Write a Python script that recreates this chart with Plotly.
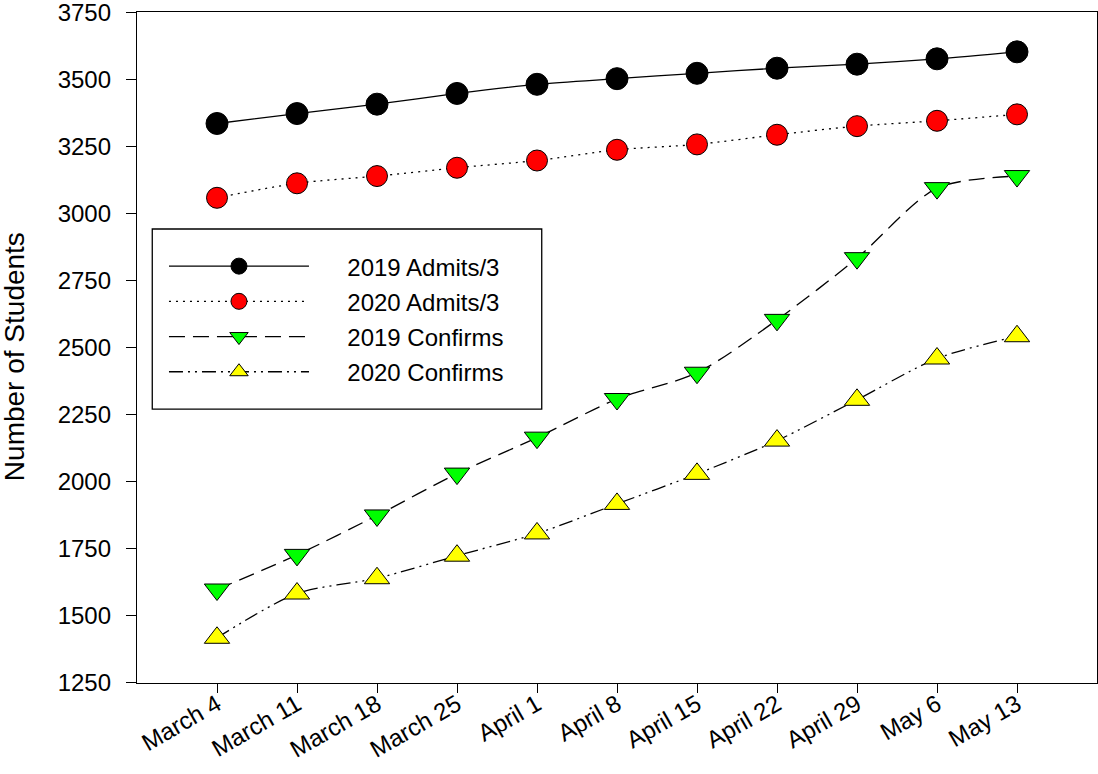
import plotly.graph_objects as go

weeks = ["March 4", "March 11", "March 18", "March 25", "April 1", "April 8",
         "April 15", "April 22", "April 29", "May 6", "May 13"]
admits_2019 = [3335, 3372, 3407, 3447, 3481, 3502, 3522, 3541, 3556, 3576, 3602]
admits_2020 = [3058, 3112, 3139, 3170, 3197, 3237, 3257, 3293, 3325, 3345, 3369]
confirms_2019 = [1598, 1727, 1874, 2030, 2164, 2308, 2406, 2603, 2833, 3094, 3139]
confirms_2020 = [1418, 1583, 1640, 1724, 1807, 1917, 2029, 2153, 2305, 2459, 2542]
y_ticks = [1250, 1500, 1750, 2000, 2250, 2500, 2750, 3000, 3250, 3500, 3750]
series_names = ["2019 Admits/3", "2020 Admits/3", "2019 Confirms", "2020 Confirms"]

FONT = "Liberation Sans, Arial, sans-serif"
PAD = "\u00a0" * 5
fig = go.Figure()

styles = [
    ("solid", "#000000", "circle", 22),
    ("2px,5px", "#FF0000", "circle", 21),
    ("16px,8px", "#00FF00", "triangle-down", 22),
    ("14px,5px,2px,5px,2px,5px", "#FFFF00", "triangle-up", 22),
]
values = [admits_2019, admits_2020, confirms_2019, confirms_2020]
for i, (name, vals, (dash, color, sym, size)) in enumerate(zip(series_names, values, styles)):
    fig.add_trace(go.Scatter(
        x=weeks, y=vals, name=PAD + name, mode="lines+markers",
        legendgroup=f"g{i}",
        line=dict(color="black", width=1.3, dash=dash, shape="spline", smoothing=0.8),
        marker=dict(symbol=sym, size=size, color=color, line=dict(color="black", width=1)),
    ))

fig.update_layout(
    width=1098, height=774,
    margin=dict(l=137, r=1, t=12, b=91, autoexpand=False),
    paper_bgcolor="white", plot_bgcolor="white",
    font=dict(family=FONT, size=24, color="black"),
    showlegend=True,
    legend=dict(
        x=0.0281, y=0.6542, xanchor="left", yanchor="top",
        borderwidth=0, bgcolor="rgba(0,0,0,0)",
        itemwidth=140, tracegroupgap=1,
        font=dict(family=FONT, size=24, color="black"),
    ),
    shapes=[dict(
        type="rect", xref="paper", yref="paper",
        x0=0.0159, x1=0.4216, y0=0.4083, y1=0.6766,
        line=dict(color="black", width=1.3), fillcolor="white", layer="below",
    )],
    xaxis=dict(
        type="category", range=[-1, 11], automargin=False,
        showline=True, linecolor="black", linewidth=1.3, mirror=True,
        ticks="outside", ticklen=9, tickwidth=1.3, tickcolor="black",
        tickangle=-30, showgrid=False, zeroline=False, ticklabelstandoff=-12,
        ticklabeloverflow="allow",
        tickfont=dict(family=FONT, size=24, color="black"),
    ),
    yaxis=dict(
        range=[1249.5, 3750.5], tickvals=y_ticks, automargin=False,
        showline=True, linecolor="black", linewidth=1.3, mirror=True,
        ticks="outside", ticklen=10, tickwidth=1.3, tickcolor="black",
        ticklabelstandoff=10, showgrid=False, zeroline=False,
        ticklabeloverflow="allow",
        tickfont=dict(family=FONT, size=24, color="black"),
    ),
    annotations=[dict(
        text="Number of Students", xref="paper", yref="paper",
        x=-0.128, y=0.4858, xanchor="center", yanchor="middle",
        textangle=-90, showarrow=False,
        font=dict(family=FONT, size=28, color="black"),
    )],
)

fig.write_html(
    "out.html",
    config={"displayModeBar": False},
    post_script="document.body.style.margin='0';document.body.style.overflow='hidden';",
)
